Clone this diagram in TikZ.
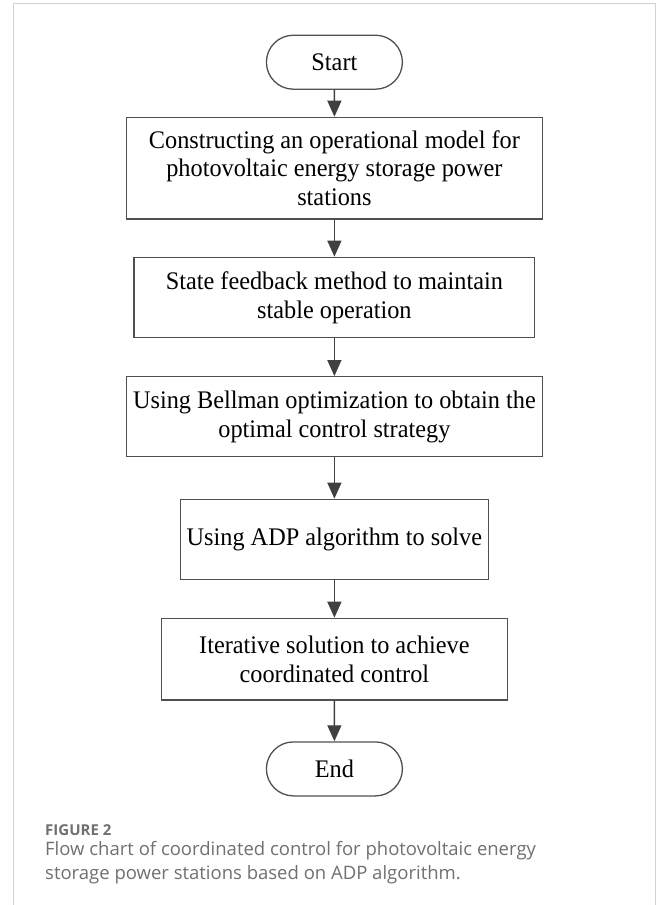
\documentclass[tikz,border=0pt]{standalone}
\usepackage{fontspec}
\setmainfont{Liberation Serif}[FakeStretch=0.96]
\newfontfamily\capfont{Open Sans}
\usetikzlibrary{arrows.meta,shapes.misc}
\definecolor{linegray}{HTML}{404040}
\definecolor{boxgray}{HTML}{505050}
\definecolor{framegray}{HTML}{D2D2D2}
\definecolor{capgray}{HTML}{707070}
\tikzset{
  flowbox/.style={draw=boxgray, line width=1.3pt, rectangle, inner sep=0pt, align=center,
    font=\fontsize{25.3}{28.6}\selectfont},
  termbox/.style={draw=boxgray, line width=1.3pt, rounded rectangle, inner sep=0pt,
    minimum width=136pt, minimum height=54pt, font=\fontsize{25.3}{28.6}\selectfont},
  flowarrow/.style={draw=linegray, line width=1.4pt, -{Triangle[length=16pt,width=14pt]}},
  captxt/.style={anchor=base west, inner sep=0pt, text=capgray, font=\capfont\fontsize{18.5}{23.6}\selectfont}
}
\begin{document}
\begin{tikzpicture}[x=1pt,y=-1pt]
\useasboundingbox (0,0) rectangle (656,905);
\fill[white] (0,0) rectangle (656,905);
\draw[framegray, line width=1pt] (13,905) -- (13,3.5) -- (655,3.5) -- (655,905);

\node[termbox] (start) at (334.4,62.2) {Start};
\node[flowbox, minimum width=415.6pt, minimum height=101.7pt] (b1) at (334.4,168.2)
  {Constructing an operational model for\\photovoltaic energy storage power\\stations};
\node[flowbox, minimum width=400.7pt, minimum height=80.4pt] (b2) at (334.4,297.5)
  {State feedback method to maintain\\stable operation};
\node[flowbox, minimum width=415.6pt, minimum height=80pt] (b3) at (334.4,416.7)
  {Using Bellman optimization to obtain the\\optimal control strategy};
\node[flowbox, minimum width=308pt, minimum height=80pt] (b4) at (334.4,539.3)
  {Using ADP algorithm to solve};
\node[flowbox, minimum width=346pt, minimum height=81.7pt] (b5) at (334.4,659.2)
  {Iterative solution to achieve\\coordinated control};
\node[termbox] (end) at (334.4,768.9) {End};

\draw[flowarrow] (start) -- (b1);
\draw[flowarrow] (b1) -- (b2);
\draw[flowarrow] (b2) -- (b3);
\draw[flowarrow] (b3) -- (b4);
\draw[flowarrow] (b4) -- (b5);
\draw[flowarrow] (b5) -- (end);

\node[captxt, font=\capfont\bfseries\fontsize{15}{18}\selectfont] (figlabel) at (45,835) {FIGURE 2};
\node[captxt] (cap1) at (45,855.7) {Flow chart of coordinated control for photovoltaic energy};
\node[captxt] (cap2) at (45,879.3) {storage power stations based on ADP algorithm.};
\end{tikzpicture}
\end{document}
